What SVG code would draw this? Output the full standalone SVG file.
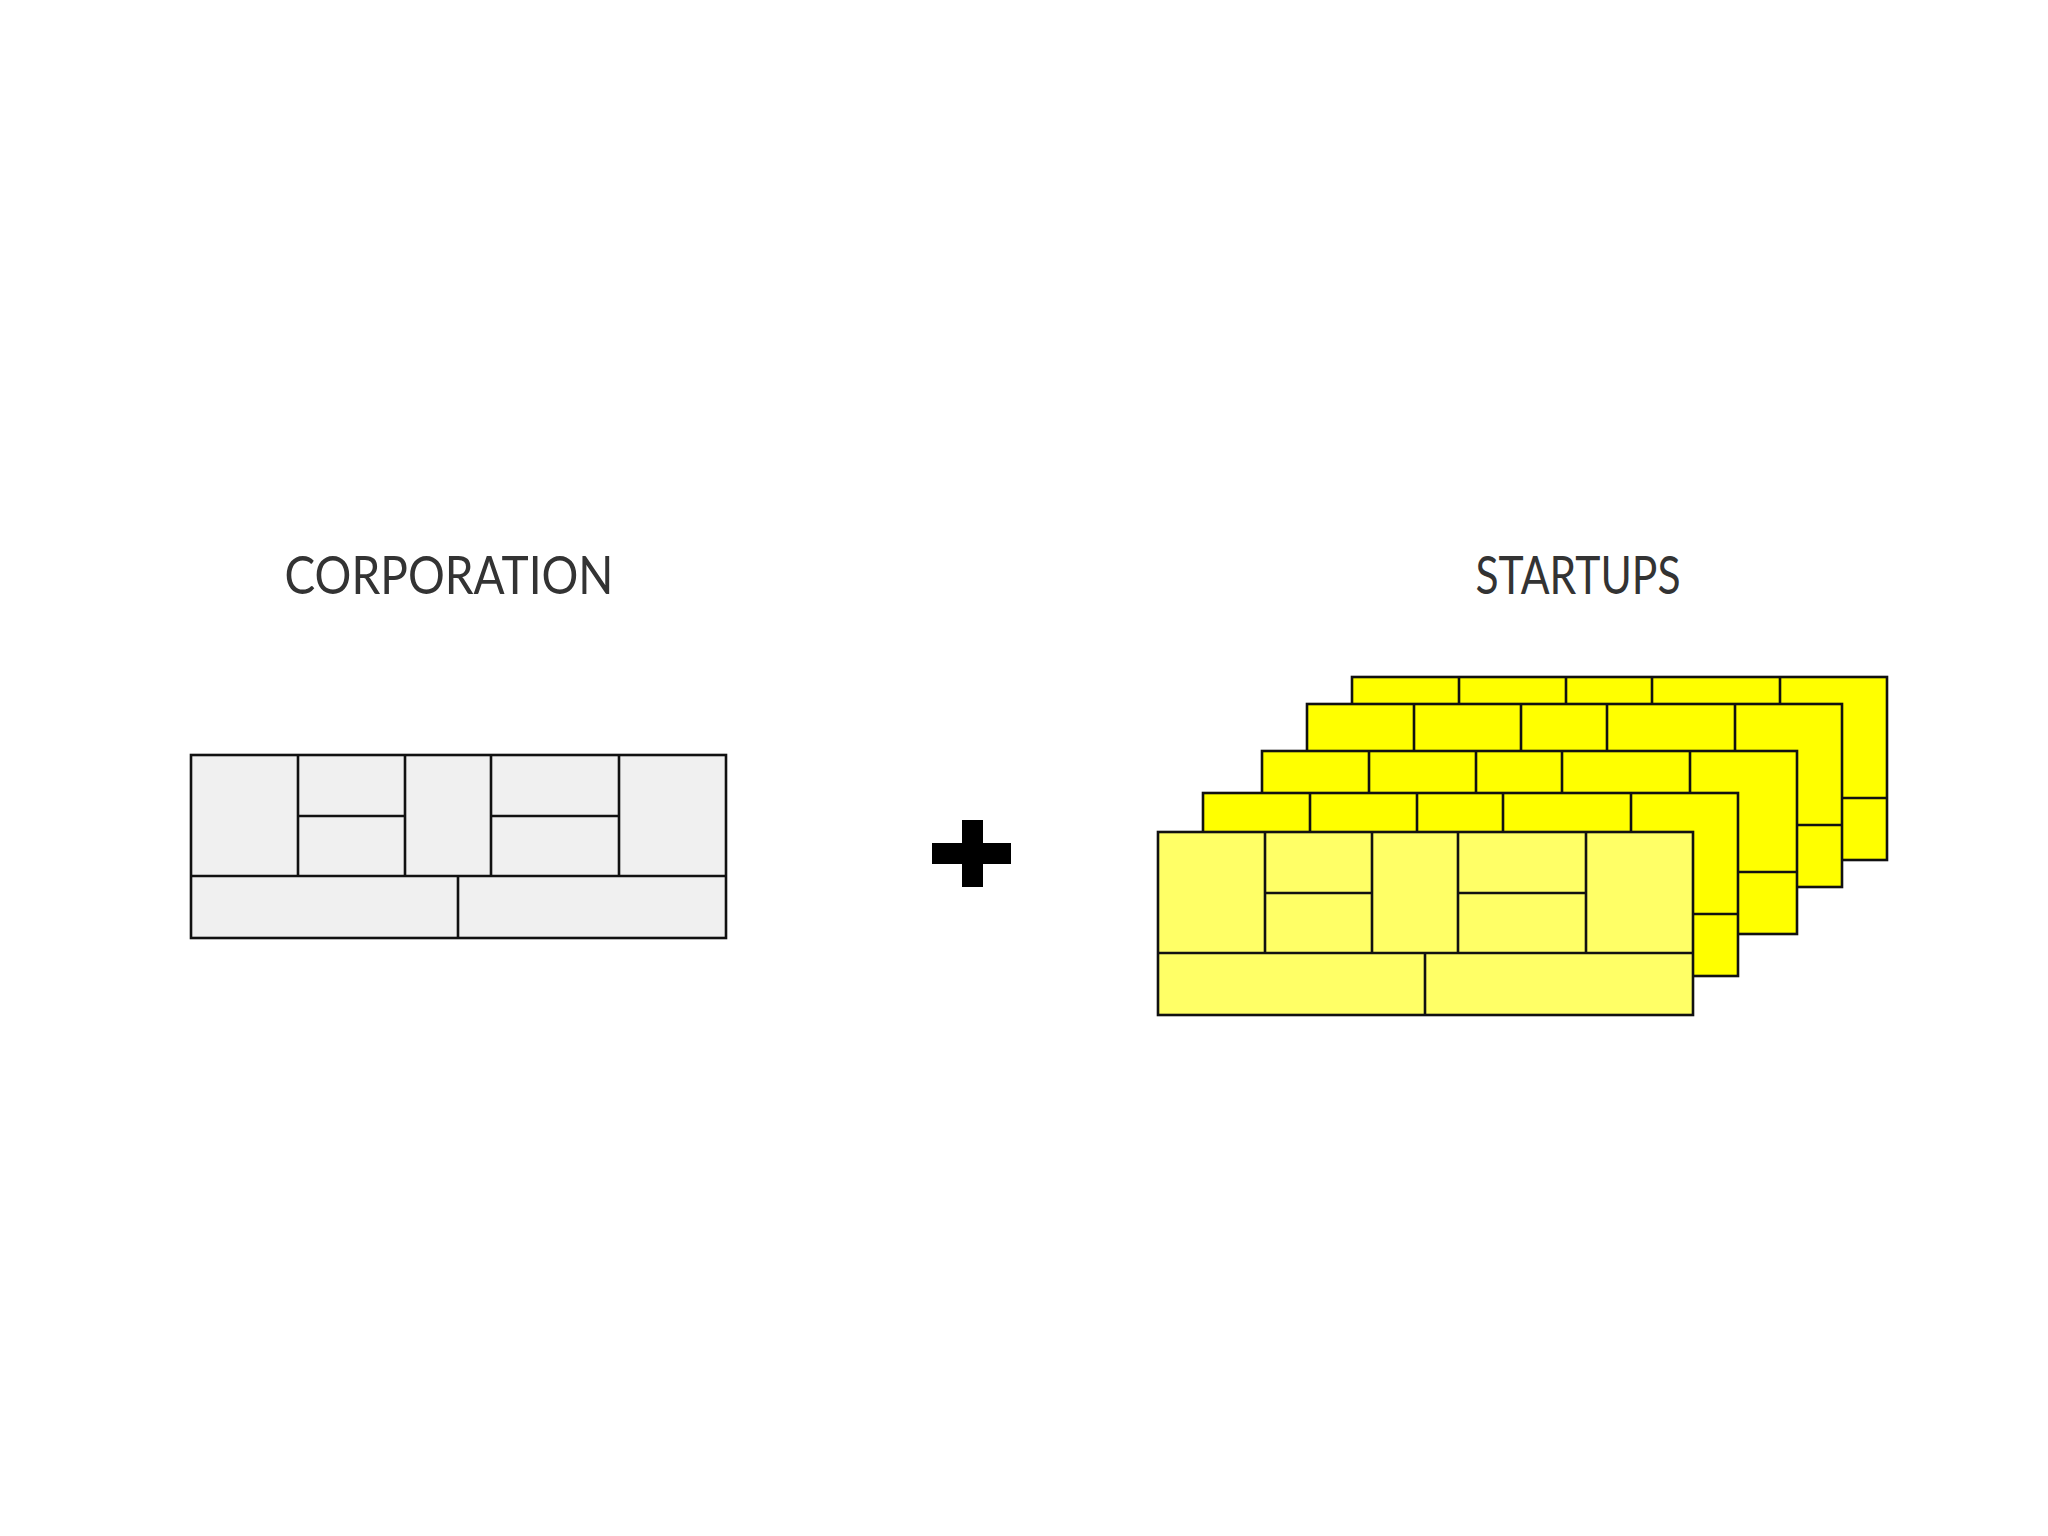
<svg xmlns="http://www.w3.org/2000/svg" xmlns:xlink="http://www.w3.org/1999/xlink" width="2048" height="1536" viewBox="0 0 2048 1536">
<style>
.b{stroke:#111;stroke-width:2.6;}
.l{stroke:#111;stroke-width:2.6;fill:none;}
.t{font-family:Lato,"Liberation Sans",sans-serif;font-size:52px;fill:#333;text-anchor:middle;}
</style>
<defs>
<g id="grid" class="l">
<path d="M107 0V121M214 0V121M300 0V121M428 0V121M107 61H214M300 61H428M0 121H535M267 121V183"/>
</g>
</defs>
<rect width="2048" height="1536" fill="#fff"/>
<g id="corporation-label"><text class="t" x="449" y="594" textLength="329" lengthAdjust="spacingAndGlyphs">CORPORATION</text></g>
<g id="startups-label"><text class="t" x="1578" y="594" textLength="205" lengthAdjust="spacingAndGlyphs">STARTUPS</text></g>
<g id="corporation" transform="translate(191 755)">
<rect class="b" width="535" height="183" fill="#f0f0f0"/><use xlink:href="#grid"/>
</g>
<g id="plus"><rect x="932" y="843" width="79" height="21" fill="#000"/><rect x="962" y="820" width="21" height="67" fill="#000"/></g>
<g id="startup5" transform="translate(1352 677)"><rect class="b" width="535" height="183" fill="#ffff00"/><use xlink:href="#grid"/></g>
<g id="startup4" transform="translate(1307 704)"><rect class="b" width="535" height="183" fill="#ffff00"/><use xlink:href="#grid"/></g>
<g id="startup3" transform="translate(1262 751)"><rect class="b" width="535" height="183" fill="#ffff00"/><use xlink:href="#grid"/></g>
<g id="startup2" transform="translate(1203 793)"><rect class="b" width="535" height="183" fill="#ffff00"/><use xlink:href="#grid"/></g>
<g id="startup1" transform="translate(1158 832)"><rect class="b" width="535" height="183" fill="#ffff66"/><use xlink:href="#grid"/></g>
<g id="connectors"/>
</svg>
